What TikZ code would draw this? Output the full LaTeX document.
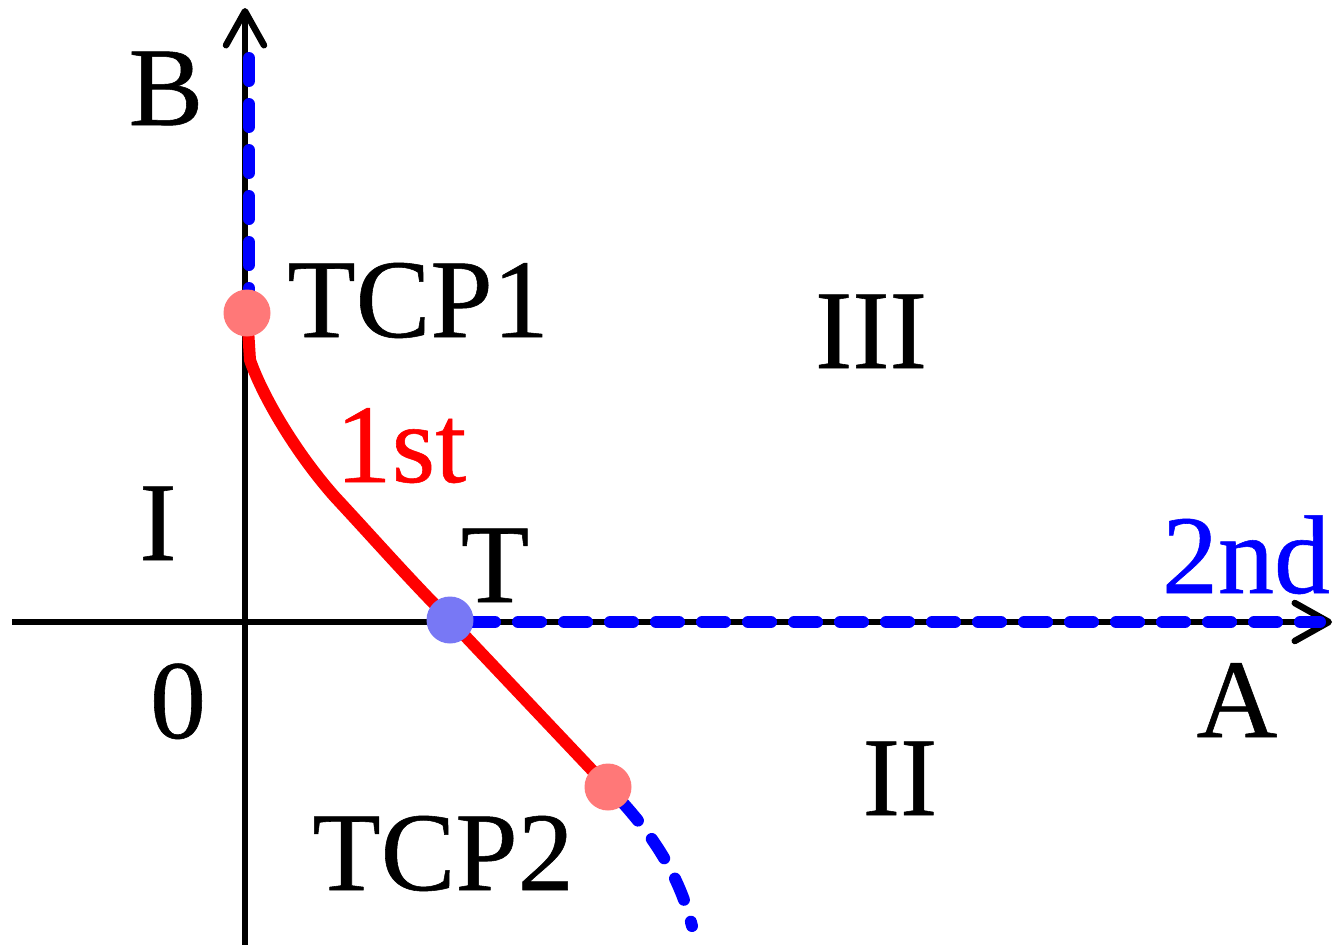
\documentclass[tikz,border=0pt]{standalone}
\usepackage{fontspec}
\setmainfont[UprightFeatures={FakeBold=0.5}]{Liberation Serif}
\usetikzlibrary{arrows.meta}
\definecolor{dotred}{HTML}{FF7878}
\definecolor{dotblue}{HTML}{7878F5}
\begin{document}
\begin{tikzpicture}[x=1pt,y=-1pt,
  lbl/.style={inner sep=0pt,anchor=base,font=\fontsize{112}{120}\selectfont},
  axis/.style={line width=6.5pt,-{Straight Barb[length=34pt,width=38pt,line width=6.5pt,round]}},
  first/.style={red,line width=12pt},
  second/.style={blue,line width=12pt,line cap=round,dash pattern=on 23pt off 23pt},
  dot/.style={circle,inner sep=0pt,minimum size=47pt}]
\useasboundingbox (0,0) rectangle (1334,945);
% coordinates
\coordinate (ybot) at (245,945);
\coordinate (ytop) at (245,8);
\coordinate (xleft) at (12,622);
\coordinate (xright) at (1332,622);
\coordinate (bstart) at (249,58);
\coordinate (xend) at (1320,622);
\coordinate (cend) at (692,926);
% axes
\draw[axis] (ybot) -- (ytop);
\draw[axis] (xleft) -- (xright);
% dots positions
\coordinate (p1) at (247,313);
\coordinate (pt) at (450,620);
\coordinate (p2) at (608,787);
% second order lines
\draw[second] (bstart) -- (249,313);
\draw[second,dash phase=0pt] (472,622) -- (xend);
\draw[second,dash phase=24pt] (p2) .. controls (655,835) and (680,878) .. (cend);
% first order line
\draw[first] (p1) -- (250,360) .. controls (262,395) and (295,452) .. (335,497) .. controls (375,540) and (410,580) .. (pt) -- (p2);
% dots
\node[dot,fill=dotred] (tcp1dot) at (p1) {};
\node[dot,fill=dotblue] (tdot) at (pt) {};
\node[dot,fill=dotred] (tcp2dot) at (p2) {};
% labels
\node[lbl] (B) at (166,125) {B};
\node[lbl] (TCP1) at (418,337) {TCP1};
\node[lbl] (III) at (871,368) {III};
\node[lbl,red] (first) at (401,482) {1st};
\node[lbl] (I) at (158,560) {I};
\node[lbl] (T) at (495,602) {T};
\node[lbl,blue] (second) at (1246,593) {2nd};
\node[lbl] (zero) at (178,738) {0};
\node[lbl] (A) at (1237,737) {A};
\node[lbl] (II) at (900,815) {II};
\node[lbl] (TCP2) at (443,890) {TCP2};
\end{tikzpicture}
\end{document}
